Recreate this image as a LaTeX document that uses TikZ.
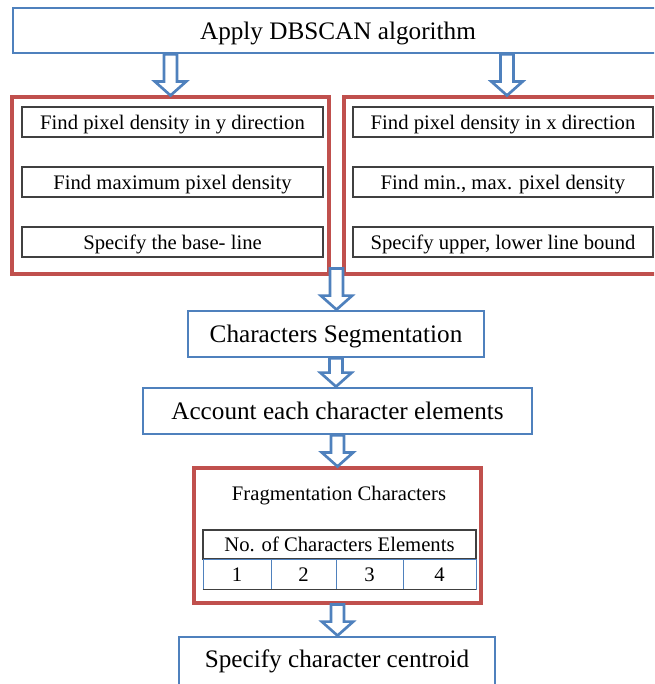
\documentclass[tikz,border=0pt]{standalone}
\usepackage{fontspec}
\setmainfont{Liberation Serif}
\usetikzlibrary{calc}
\definecolor{boxblue}{HTML}{4F81BD}
\definecolor{boxred}{HTML}{C0504D}
\definecolor{tblline}{HTML}{404040}
\newcommand{\bigtxt}{\fontsize{18.9}{22}\selectfont}
\newcommand{\smalltxt}{\fontsize{15.5}{18}\selectfont}
\newcommand{\hollowarrow}[2]{%
  \draw[hollow] let \p1=#1, \p2=#2 in
   (\x2-4.9pt,\y1) -- (\x2-4.9pt,\y2+10.5pt) -- (\x2-11.8pt,\y2+10.5pt) -- (\x2,\y2)
   -- (\x2+11.8pt,\y2+10.5pt) -- (\x2+4.9pt,\y2+10.5pt) -- (\x2+4.9pt,\y1) -- cycle;}
\tikzset{
  bigpos/.style={text height=17pt, text depth=3.8pt},
  smallpos/.style={text height=14pt, text depth=3.1pt},
  bluebox/.style={draw=boxblue, line width=2.1pt, fill=white, inner sep=0pt, font=\bigtxt, bigpos},
  redbox/.style={draw=boxred, line width=2.3pt, fill=white, inner sep=0pt},
  subbox/.style={draw=tblline, line width=0.8pt, fill=white, inner sep=0pt, font=\smalltxt,
    minimum height=22.5pt, smallpos},
  cellbox/.style={draw=boxblue, line width=0.7pt, inner sep=0pt, font=\smalltxt, minimum height=22.5pt, smallpos},
  hollow/.style={draw=boxblue, line width=2pt, fill=white, line join=miter},
}
\begin{document}
\begin{tikzpicture}[x=0.75pt, y=-0.75pt]
\useasboundingbox (0,0) rectangle (654,684);
\clip (0,0) rectangle (654,684);
\fill[white] (0,0) rectangle (654,684);

% top box
\node[bluebox, minimum width=487.5pt, minimum height=33.75pt] (top) at (338,30.5) {Apply DBSCAN algorithm};

% red containers
\node[redbox, minimum width=237.75pt, minimum height=132.75pt] (red1) at (170.5,185.5) {};
\node[redbox, minimum width=244.5pt, minimum height=132.75pt] (red2) at (507,185.5) {};

% left sub boxes
\node[subbox, minimum width=225.75pt] (l1) at (172.5,122) {Find pixel density in y direction};
\node[subbox, minimum width=225.75pt] (l2) at (172.5,182) {Find maximum pixel density};
\node[subbox, minimum width=225.75pt] (l3) at (172.5,242) {Specify the base- line};
% right sub boxes
\node[subbox, minimum width=225pt] (r1) at (503,122) {Find pixel density in x direction};
\node[subbox, minimum width=225pt] (r2) at (503,182) {Find min., max. pixel density};
\node[subbox, minimum width=225pt] (r3) at (503,242) {Specify upper, lower line bound};

% middle boxes
\node[bluebox, minimum width=222pt, minimum height=34.5pt] (seg) at (336,334) {Characters Segmentation};
\node[bluebox, minimum width=291.75pt, minimum height=34.5pt] (acc) at (337.5,411) {Account each character elements};

% fragmentation container
\node[redbox, minimum width=215.25pt, minimum height=101.25pt] (red3) at (337.5,535.5) {};
\node[inner sep=0pt, font=\smalltxt, smallpos] (frag) at (339,493) {Fragmentation Characters};
\node[subbox, minimum width=204.75pt, minimum height=21.75pt] (hdr) at (339.5,544.5) {No. of Characters Elements};
\node[cellbox, minimum width=51pt] (c1) at (237,574) {1};
\node[cellbox, minimum width=48.75pt] (c2) at (303.5,574) {2};
\node[cellbox, minimum width=50.25pt] (c3) at (369.5,574) {3};
\node[cellbox, minimum width=54.75pt] (c4) at (439.5,574) {4};
\draw[tblline, line width=0.8pt] (c1.south west) -- (c4.south east);

% final box
\node[bluebox, minimum width=237pt, minimum height=48pt] (cen) at (337,669) {};
\node[inner sep=0pt, font=\bigtxt, bigpos] (centxt) at (337,659) {Specify character centroid};

% hollow block arrows
\coordinate (gap) at ($(red1.south east)!0.5!(red2.south west)+(0,-7)$);
\hollowarrow{(top.south -| red1.north)}{(red1.north)}
\hollowarrow{(top.south -| red2.north)}{(red2.north)}
\hollowarrow{(gap)}{(seg.north -| gap)}
\hollowarrow{(seg.south)}{(acc.north -| seg.south)}
\hollowarrow{(acc.south)}{(red3.north -| acc.south)}
\hollowarrow{(red3.south)}{(cen.north -| red3.south)}
\end{tikzpicture}
\end{document}
